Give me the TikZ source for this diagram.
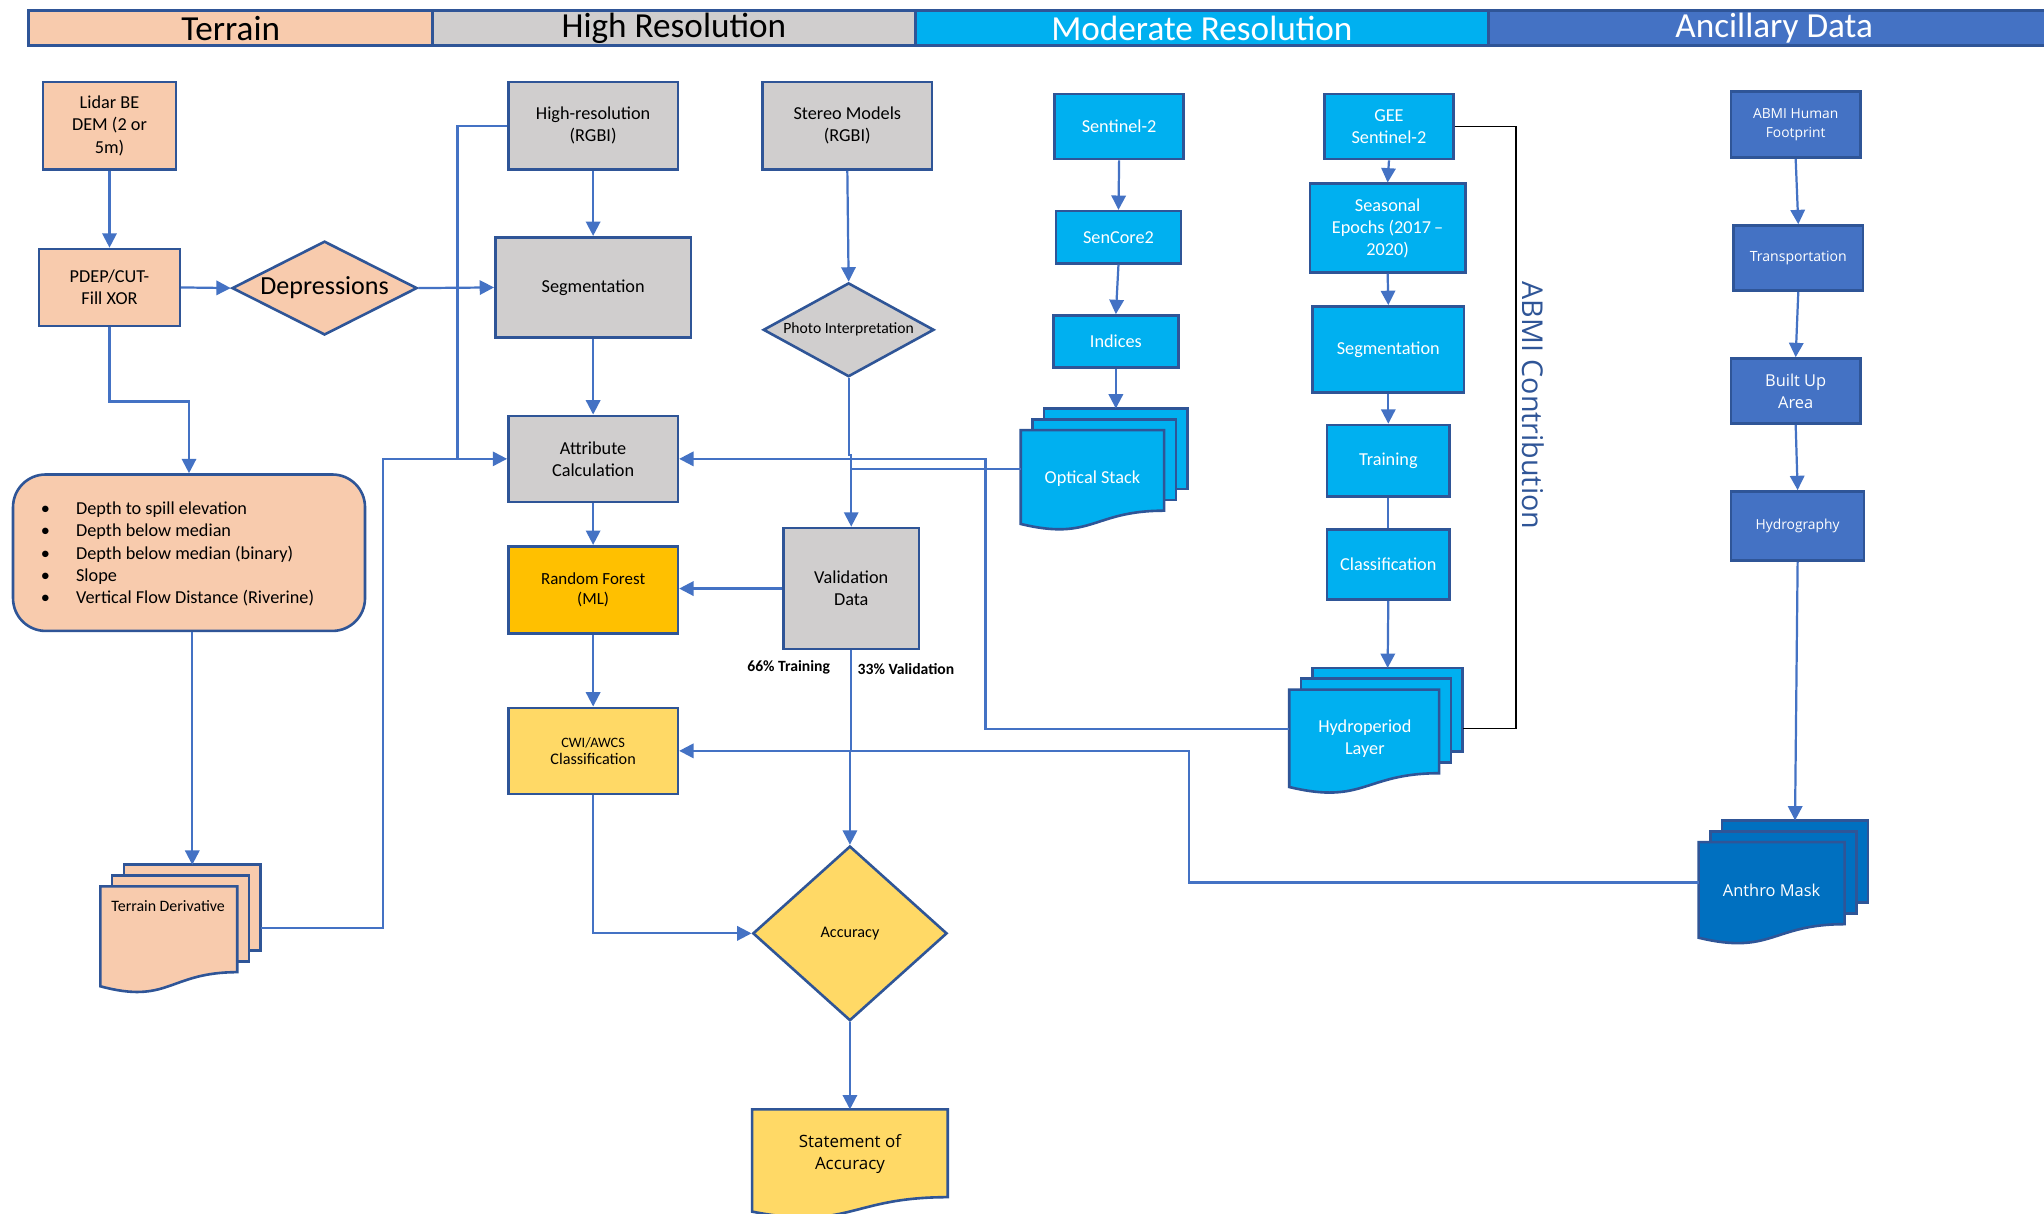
\documentclass[tikz,border=0pt]{standalone}
\usepackage{fontspec}
\setmainfont{Carlito}
\newfontfamily\segfont{Open Sans}
\usetikzlibrary{arrows.meta,shapes.geometric,calc}
\definecolor{peach}{HTML}{F8CBAD}
\definecolor{grayf}{HTML}{D0CECE}
\definecolor{cyanf}{HTML}{00B0F0}
\definecolor{ancf}{HTML}{4472C4}
\definecolor{anthf}{HTML}{0070C0}
\definecolor{rff}{HTML}{FFC000}
\definecolor{ltyel}{HTML}{FFD966}
\definecolor{bord}{HTML}{2F5597}
\definecolor{lnk}{HTML}{4472C4}
\newcommand\fs[2]{\fontsize{#1}{#2}\selectfont}
\tikzset{
  bx/.style={draw=bord, line width=1pt, inner sep=0pt, align=center, font=\fs{7}{8.5}},
  hdr/.style={draw=bord, line width=1.2pt, inner sep=0pt, font=\fs{13.5}{15}},
  conn/.style={draw=lnk, line width=0.85pt},
  arr/.style={conn, -{Triangle[length=5.5pt,width=5.5pt]}},
  wtxt/.style={text=white},
  dia/.style={draw=bord, line width=1pt, diamond, inner sep=0pt, align=center},
  docline/.style={draw=bord, line width=1pt},
}
% name, style, x1, y1, x2, y2, text
\newcommand\rbox[7]{\node[bx,#2,minimum width={(#5-#3)*0.5pt},minimum height={(#6-#4)*0.5pt}] (#1) at ({(#3+#5)/2},{(#4+#6)/2}) {#7};}
% name, x, y, w, h, fill
\newcommand\mdoc[6]{%
  \foreach \k in {2,1}{\draw[docline, fill=#6] ({#2+\k*9},{#3-\k*8.3}) rectangle ({#2+#4+\k*9},{#3-\k*8.3+0.802*#5});}
  \draw[docline, fill=#6] (#2,#3) -- ({#2+#4},#3) -- ({#2+#4},{#3+0.802*#5})
    .. controls ({#2+#4/2},{#3+0.802*#5}) and ({#2+#4/2},{#3+1.1075*#5}) .. (#2,{#3+0.934*#5}) -- cycle;
  \coordinate (#1top) at ({#2+#4/2+18},{#3-16.6});
}
\begin{document}
\begin{tikzpicture}[x=0.5pt,y=-0.5pt]
\fill[white] (0,0) rectangle (1568,931);
\useasboundingbox (0,0) rectangle (1568,931);

% header
\node[hdr, fill=peach, minimum width=155pt, minimum height=13.5pt] (hT) at (177,21.5) {Terrain};
\node[hdr, fill=grayf, minimum width=185pt, minimum height=13.5pt] (hH) at (517,21.5) {High Resolution};
\node[hdr, fill=cyanf, text=white, minimum width=220pt, minimum height=13.5pt] (hM) at (922,21.5) {Moderate Resolution};
\node[hdr, fill=ancf, text=white, minimum width=219pt, minimum height=13.5pt] (hA) at (1361,21.5) {Ancillary Data};

% terrain column
\rbox{lidar}{fill=peach}{33}{63}{135}{130}{Lidar BE\\DEM (2 or\\5m)}
\rbox{pdep}{fill=peach}{30}{191}{138}{250}{PDEP/CUT-\\Fill XOR}
\node[dia, fill=peach, minimum width=71pt, minimum height=36pt, aspect=1.97, font=\fs{10}{12}] (dep) at (249,221) {Depressions};
\node[draw=bord, line width=1pt, fill=peach, rounded corners=12.5pt, minimum width=135pt, minimum height=60pt, inner sep=0pt] (bul) at (145,424) {};
\node[anchor=west, align=left, inner sep=0pt, font=\fs{7}{8.5}] (bultxt) at (31,425) {%
\makebox[13.5pt][l]{\textbullet}Depth to spill elevation\\
\makebox[13.5pt][l]{\textbullet}Depth below median\\
\makebox[13.5pt][l]{\textbullet}Depth below median (binary)\\
\makebox[13.5pt][l]{\textbullet}Slope\\
\makebox[13.5pt][l]{\textbullet}Vertical Flow Distance (Riverine)};
\mdoc{td}{77}{680}{105}{82}{peach}
\node[font=\fs{6.1}{7}, inner sep=0pt] (tdtxt) at (129,695) {Terrain Derivative};
\coordinate (tdR) at (200,712);

% high resolution column
\rbox{hr}{fill=grayf}{390}{63}{520}{130}{High-resolution\\(RGBI)}
\rbox{stereo}{fill=grayf}{585}{63}{715}{130}{Stereo Models\\(RGBI)}
\rbox{seg1}{fill=grayf}{380}{182}{530}{259}{Segmentation}
\node[dia, fill=grayf, minimum width=65.5pt, minimum height=36pt, aspect=1.82, font=\fs{6}{7}] (pi) at (651,253) {Photo Interpretation};
\rbox{attr}{fill=grayf}{390}{319}{520}{385}{Attribute\\Calculation}
\rbox{rf}{fill=rff,font=\fs{6.5}{7.5}}{390}{419}{520}{486}{Random Forest\\(ML)}
\rbox{vd}{fill=grayf}{601}{405}{705}{498}{Validation\\Data}
\node[font=\bfseries\fs{6}{7}, inner sep=0pt] (l66) at (605,512) {66\% Training};
\node[font=\bfseries\fs{6}{7}, inner sep=0pt] (l33) at (695,513.5) {33\% Validation};
\rbox{cwi}{fill=ltyel,font=\fs{6.2}{6.6}}{390}{543}{520}{609}{{\fs{5.5}{6.5}CWI/AWCS}\\Classification}
\node[dia, fill=ltyel, minimum width=74.5pt, minimum height=67pt, aspect=1.1, font=\fs{6.2}{7}] (acc) at (652,716) {Accuracy};
\draw[docline, fill=ltyel] (577,851) -- (727,851) -- (727,{851+0.802*84})
  .. controls (652,{851+0.802*84}) and (652,{851+1.1075*84}) .. (577,{851+0.934*84}) -- cycle;
\coordinate (soatop) at (652,851);
\node[font=\segfont\fs{6.5}{8.5}, align=center, inner sep=0pt] (soa) at (652,885) {Statement of\\Accuracy};

% moderate resolution column
\rbox{sen2}{fill=cyanf,wtxt}{809}{72}{908}{122}{Sentinel-2}
\rbox{senc}{fill=cyanf,wtxt}{810}{162}{906}{202}{SenCore2}
\rbox{ind}{fill=cyanf,wtxt}{808}{242}{904}{282}{Indices}
\mdoc{os}{783}{330}{110}{77}{cyanf}
\node[font=\fs{7}{8.5}, text=white, inner sep=0pt] (ostxt) at (838,367) {Optical Stack};
\coordinate (osL) at (783,360);
\rbox{gee}{fill=cyanf,wtxt}{1016}{72}{1115}{122}{GEE\\Sentinel-2}
\rbox{seas}{fill=cyanf,wtxt}{1005}{141}{1124}{209}{Seasonal\\Epochs (2017\,–\\2020)}
\rbox{seg2}{fill=cyanf,wtxt}{1007}{235}{1123}{301}{Segmentation}
\rbox{train}{fill=cyanf,wtxt}{1018}{326}{1112}{381}{Training}
\rbox{cls}{fill=cyanf,wtxt}{1018}{406}{1112}{460}{Classification}
\mdoc{hp}{989}{529}{115}{80}{cyanf}
\node[font=\fs{7}{8.5}, text=white, align=center, inner sep=0pt] (hptxt) at (1047,566.5) {Hydroperiod\\Layer};
\coordinate (hpL) at (989,559);
\coordinate (hpR) at (1122,559);
\node[rotate=-90, font=\segfont\fs{11}{13}, text=bord, inner sep=0pt] (abmic) at (1176,311) {ABMI Contribution};

% ancillary column
\rbox{abmi}{fill=ancf,wtxt,font=\segfont\fs{5.3}{7.5}}{1328}{70}{1427}{121}{ABMI Human\\Footprint}
\rbox{trans}{fill=ancf,wtxt,font=\segfont\fs{5.4}{7.5}}{1330}{173}{1429}{223}{Transportation}
\rbox{bua}{fill=ancf,wtxt,font=\segfont\fs{6.3}{8.5}}{1328}{275}{1427}{325}{Built Up\\Area}
\rbox{hyd}{fill=ancf,wtxt,font=\segfont\fs{5.3}{7.5}}{1328}{377}{1430}{430}{Hydrography}
\mdoc{am}{1303}{646}{112}{78.5}{anthf}
\node[font=\segfont\fs{6.3}{8}, text=white, inner sep=0pt] (amtxt) at (1359,683) {Anthro Mask};
\coordinate (amL) at (1303,677);

% connectors
\draw[arr] (lidar.south) -- (pdep.north);
\draw[arr] (pdep.east) -- (dep.west);
\draw[arr] (dep.east) -- (seg1.west);
\draw[arr] (pdep.south) -- ++(0,57) -| (bul.north);
\draw[arr] (tdtop |- bul.south) -- (tdtop);
\draw[arr] (tdR) -| ($(attr.west)+(-95,0)$) -- (attr.west);
\draw[conn] (hr.west) -| ($(attr.west)+(-38,0)$);
\draw[arr] (hr.south) -- (seg1.north);
\draw[arr] (seg1.south) -- (attr.north);
\draw[arr] (attr.south) -- (rf.north);
\draw[arr] (rf.south) -- (cwi.north);
\draw[arr] (stereo.south) -- (pi.north);
\draw[arr] (pi.south) -- ++(0,59) -| (vd.north);
\draw[conn] (osL) -- (osL -| vd.north);
\draw[arr] (vd.west) -- (vd.west -| rf.east);
\draw[arr] (vd.south) -- ++(0,77) -| (acc.north);
\draw[arr] (hpL) -| ($(attr.east)+(235,0)$) -- (attr.east);
\draw[arr] (amL) -| ($(cwi.east)+(391,0)$) -- (cwi.east);
\draw[arr] (cwi.south) |- (acc.west);
\draw[arr] (acc.south) -- (soatop);
\draw[arr] (sen2.south) -- (senc.north);
\draw[arr] (senc.south) -- (ind.north);
\draw[arr] (ind.south) -- (ostop);
\draw[arr] (gee.south) -- (seas.north);
\draw[arr] (seas.south) -- (seg2.north);
\draw[arr] (seg2.south) -- (train.north);
\draw[conn] (train.south) -- (cls.north);
\draw[arr] (cls.south) -- (hptop);
\draw[black, line width=0.6pt] (gee.east) -| ($(hpR)+(41,0)$) -- (hpR);
\draw[arr] (abmi.south) -- (trans.north);
\draw[arr] (trans.south) -- (bua.north);
\draw[arr] (bua.south) -- (hyd.north);
\draw[arr] (hyd.south) -- (amtop);
\end{tikzpicture}
\end{document}
